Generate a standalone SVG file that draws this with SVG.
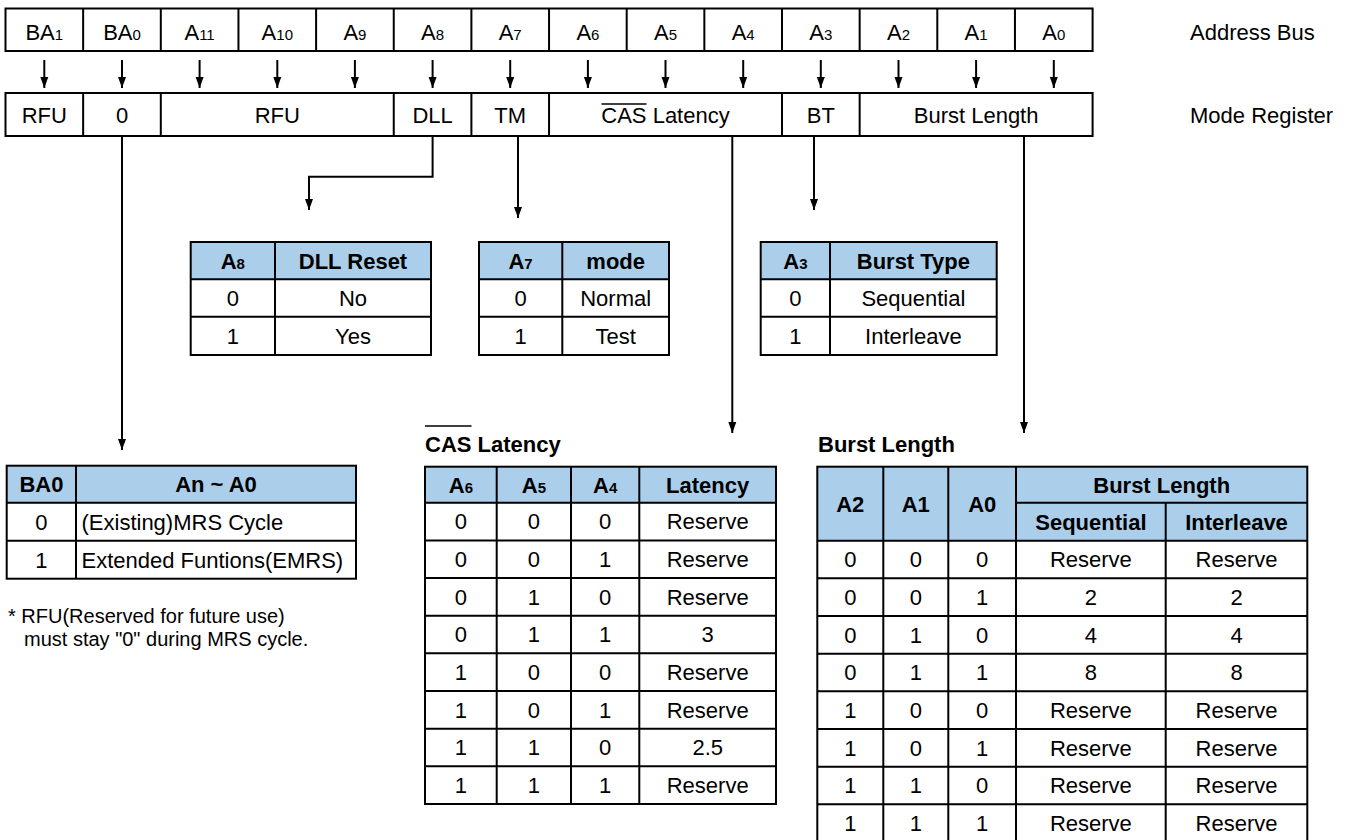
<svg xmlns="http://www.w3.org/2000/svg" width="1349" height="840" viewBox="0 0 1349 840">
<style>
.t{font-family:"Liberation Sans",Arial,Helvetica,sans-serif;font-size:22px;fill:#000}
.c{text-anchor:middle}
.b{font-weight:bold}
.s{font-size:15px}
.fn{font-size:20px}
.box{fill:#fff;stroke:#000;stroke-width:2}
.hd{fill:#abcfea;stroke:none}
.ln{stroke:#000;stroke-width:2;fill:none}
.ol{stroke:#000;stroke-width:1.6}
</style>
<defs>
<marker id="ah" markerUnits="userSpaceOnUse" markerWidth="12" markerHeight="9" refX="11" refY="4.5" orient="auto">
<path d="M0,0.5 L11,4.5 L0,8.5 z" fill="#000"/>
</marker>
</defs>
<rect width="1349" height="840" fill="#fff"/>

<g id="address-bus">
<rect class="box" x="5.5" y="8.5" width="1087.1" height="42.5"/>
<path class="ln" d="M83.15,8.5V51M160.8,8.5V51M238.45,8.5V51M316.1,8.5V51M393.75,8.5V51M471.4,8.5V51M549.05,8.5V51M626.7,8.5V51M704.35,8.5V51M782,8.5V51M859.65,8.5V51M937.3,8.5V51M1014.95,8.5V51"/>
<text class="t c" x="44.3" y="39.5">BA<tspan class="s">1</tspan></text>
<text class="t c" x="122" y="39.5">BA<tspan class="s">0</tspan></text>
<text class="t c" x="199.6" y="39.5">A<tspan class="s">11</tspan></text>
<text class="t c" x="277.3" y="39.5">A<tspan class="s">10</tspan></text>
<text class="t c" x="354.9" y="39.5">A<tspan class="s">9</tspan></text>
<text class="t c" x="432.6" y="39.5">A<tspan class="s">8</tspan></text>
<text class="t c" x="510.2" y="39.5">A<tspan class="s">7</tspan></text>
<text class="t c" x="587.9" y="39.5">A<tspan class="s">6</tspan></text>
<text class="t c" x="665.5" y="39.5">A<tspan class="s">5</tspan></text>
<text class="t c" x="743.2" y="39.5">A<tspan class="s">4</tspan></text>
<text class="t c" x="820.8" y="39.5">A<tspan class="s">3</tspan></text>
<text class="t c" x="898.5" y="39.5">A<tspan class="s">2</tspan></text>
<text class="t c" x="976.1" y="39.5">A<tspan class="s">1</tspan></text>
<text class="t c" x="1053.8" y="39.5">A<tspan class="s">0</tspan></text>
<text class="t" x="1190" y="39.5">Address Bus</text>
</g>

<g id="mode-register">
<rect class="box" x="5.5" y="93" width="1087.1" height="43"/>
<path class="ln" d="M83.15,93V136M160.8,93V136M393.75,93V136M471.4,93V136M549.05,93V136M782,93V136M859.65,93V136"/>
<text class="t c" x="44.3" y="122.7">RFU</text>
<text class="t c" x="122" y="122.7">0</text>
<text class="t c" x="277.3" y="122.7">RFU</text>
<text class="t c" x="432.6" y="122.7">DLL</text>
<text class="t c" x="510.2" y="122.7">TM</text>
<text class="t" x="601.3" y="122.7">CAS Latency</text>
<line class="ol" x1="601.5" y1="104" x2="646.5" y2="104"/>
<text class="t c" x="820.8" y="122.7">BT</text>
<text class="t c" x="976.1" y="122.7">Burst Length</text>
<text class="t" x="1190" y="122.7">Mode Register</text>
</g>

<g id="connectors" class="ln">
<path d="M44.3,60V88" marker-end="url(#ah)"/>
<path d="M122,60V88" marker-end="url(#ah)"/>
<path d="M199.6,60V88" marker-end="url(#ah)"/>
<path d="M277.3,60V88" marker-end="url(#ah)"/>
<path d="M354.9,60V88" marker-end="url(#ah)"/>
<path d="M432.6,60V88" marker-end="url(#ah)"/>
<path d="M510.2,60V88" marker-end="url(#ah)"/>
<path d="M587.9,60V88" marker-end="url(#ah)"/>
<path d="M665.5,60V88" marker-end="url(#ah)"/>
<path d="M743.2,60V88" marker-end="url(#ah)"/>
<path d="M820.8,60V88" marker-end="url(#ah)"/>
<path d="M898.5,60V88" marker-end="url(#ah)"/>
<path d="M976.1,60V88" marker-end="url(#ah)"/>
<path d="M1053.8,60V88" marker-end="url(#ah)"/>
<path d="M122,136V450" marker-end="url(#ah)"/>
<path d="M432.6,136V176.7H309V210" marker-end="url(#ah)"/>
<path d="M518,136V218" marker-end="url(#ah)"/>
<path d="M814,136V210" marker-end="url(#ah)"/>
<path d="M732.3,136V433" marker-end="url(#ah)"/>
<path d="M1024,136V433" marker-end="url(#ah)"/>
</g>

<g id="dll-table">
<rect class="hd" x="190.7" y="242" width="240.3" height="37.3"/>
<path class="ln" d="M190.7,279.3H431M190.7,316.7H431M275,242V355"/>
<rect x="190.7" y="242" width="240.3" height="113" fill="none" stroke="#000" stroke-width="2"/>
<text class="t c b" x="232.8" y="268.5">A<tspan class="s">8</tspan></text>
<text class="t c b" x="353" y="268.5">DLL Reset</text>
<text class="t c" x="232.8" y="305.8">0</text>
<text class="t c" x="353" y="305.8">No</text>
<text class="t c" x="232.8" y="343.7">1</text>
<text class="t c" x="353" y="343.7">Yes</text>
</g>

<g id="mode-table">
<rect class="hd" x="479" y="242" width="190" height="37.3"/>
<path class="ln" d="M479,279.3H669M479,316.7H669M562.3,242V355"/>
<rect x="479" y="242" width="190" height="113" fill="none" stroke="#000" stroke-width="2"/>
<text class="t c b" x="520.6" y="268.5">A<tspan class="s">7</tspan></text>
<text class="t c b" x="615.7" y="268.5">mode</text>
<text class="t c" x="520.6" y="305.8">0</text>
<text class="t c" x="615.7" y="305.8">Normal</text>
<text class="t c" x="520.6" y="343.7">1</text>
<text class="t c" x="615.7" y="343.7">Test</text>
</g>

<g id="bt-table">
<rect class="hd" x="760.7" y="242" width="236" height="37.3"/>
<path class="ln" d="M760.7,279.3H996.7M760.7,316.7H996.7M830,242V355"/>
<rect x="760.7" y="242" width="236" height="113" fill="none" stroke="#000" stroke-width="2"/>
<text class="t c b" x="795.4" y="268.5">A<tspan class="s">3</tspan></text>
<text class="t c b" x="913.4" y="268.5">Burst Type</text>
<text class="t c" x="795.4" y="305.8">0</text>
<text class="t c" x="913.4" y="305.8">Sequential</text>
<text class="t c" x="795.4" y="343.7">1</text>
<text class="t c" x="913.4" y="343.7">Interleave</text>
</g>

<g id="ba0-table">
<rect class="hd" x="6.7" y="465.7" width="349.3" height="37"/>
<path class="ln" d="M6.7,502.7H356M6.7,540.7H356M76,465.7V578.7"/>
<rect x="6.7" y="465.7" width="349.3" height="113" fill="none" stroke="#000" stroke-width="2"/>
<text class="t c b" x="41.4" y="492">BA0</text>
<text class="t c b" x="216" y="492">An ~ A0</text>
<text class="t c" x="41.4" y="529.5">0</text>
<text class="t" x="81.5" y="529.5">(Existing)MRS Cycle</text>
<text class="t c" x="41.4" y="567.5">1</text>
<text class="t" x="81.5" y="567.5">Extended Funtions(EMRS)</text>
</g>

<g id="footnote">
<text class="t fn" x="8" y="623">* RFU(Reserved for future use)</text>
<text class="t fn" x="24" y="646">must stay "0" during MRS cycle.</text>
</g>

<g id="cas-table">
<text class="t b" x="425" y="451.5">CAS Latency</text>
<line class="ol" x1="425" y1="426" x2="471.5" y2="426"/>
<rect class="hd" x="425" y="466.7" width="351" height="36"/>
<path class="ln" d="M425,502.7H776M425,540.4H776M425,578H776M425,615.7H776M425,653.3H776M425,691H776M425,728.7H776M425,766.3H776M496.7,466.7V804M571,466.7V804M639.3,466.7V804"/>
<rect x="425" y="466.7" width="351" height="337.3" fill="none" stroke="#000" stroke-width="2"/>
<text class="t c b" x="460.9" y="492.5">A<tspan class="s">6</tspan></text>
<text class="t c b" x="533.9" y="492.5">A<tspan class="s">5</tspan></text>
<text class="t c b" x="605.2" y="492.5">A<tspan class="s">4</tspan></text>
<text class="t c b" x="707.7" y="492.5">Latency</text>
<g class="t c">
<text x="460.9" y="529.3">0</text><text x="533.9" y="529.3">0</text><text x="605.2" y="529.3">0</text><text x="707.7" y="529.3">Reserve</text>
<text x="460.9" y="567">0</text><text x="533.9" y="567">0</text><text x="605.2" y="567">1</text><text x="707.7" y="567">Reserve</text>
<text x="460.9" y="604.6">0</text><text x="533.9" y="604.6">1</text><text x="605.2" y="604.6">0</text><text x="707.7" y="604.6">Reserve</text>
<text x="460.9" y="642.3">0</text><text x="533.9" y="642.3">1</text><text x="605.2" y="642.3">1</text><text x="707.7" y="642.3">3</text>
<text x="460.9" y="679.9">1</text><text x="533.9" y="679.9">0</text><text x="605.2" y="679.9">0</text><text x="707.7" y="679.9">Reserve</text>
<text x="460.9" y="717.6">1</text><text x="533.9" y="717.6">0</text><text x="605.2" y="717.6">1</text><text x="707.7" y="717.6">Reserve</text>
<text x="460.9" y="755.3">1</text><text x="533.9" y="755.3">1</text><text x="605.2" y="755.3">0</text><text x="707.7" y="755.3">2.5</text>
<text x="460.9" y="792.9">1</text><text x="533.9" y="792.9">1</text><text x="605.2" y="792.9">1</text><text x="707.7" y="792.9">Reserve</text>
</g>
</g>

<g id="burst-table">
<text class="t b" x="818" y="451.5">Burst Length</text>
<rect class="hd" x="817.3" y="466.7" width="490" height="74"/>
<path class="ln" d="M1016,502.7H1307.3M817.3,540.7H1307.3M817.3,578.3H1307.3M817.3,616H1307.3M817.3,653.7H1307.3M817.3,691.3H1307.3M817.3,729H1307.3M817.3,766.7H1307.3M817.3,804.3H1307.3M883.3,466.7V845M948.3,466.7V845M1016,466.7V845M1165.7,502.7V845"/>
<rect x="817.3" y="466.7" width="490" height="376" fill="none" stroke="#000" stroke-width="2"/>
<text class="t c b" x="850.3" y="511.5">A2</text>
<text class="t c b" x="915.8" y="511.5">A1</text>
<text class="t c b" x="982.2" y="511.5">A0</text>
<text class="t c b" x="1161.7" y="492.5">Burst Length</text>
<text class="t c b" x="1090.9" y="529.5">Sequential</text>
<text class="t c b" x="1236.5" y="529.5">Interleave</text>
<g class="t c">
<text x="850.3" y="567.3">0</text><text x="915.8" y="567.3">0</text><text x="982.2" y="567.3">0</text><text x="1090.9" y="567.3">Reserve</text><text x="1236.5" y="567.3">Reserve</text>
<text x="850.3" y="605">0</text><text x="915.8" y="605">0</text><text x="982.2" y="605">1</text><text x="1090.9" y="605">2</text><text x="1236.5" y="605">2</text>
<text x="850.3" y="642.6">0</text><text x="915.8" y="642.6">1</text><text x="982.2" y="642.6">0</text><text x="1090.9" y="642.6">4</text><text x="1236.5" y="642.6">4</text>
<text x="850.3" y="680.3">0</text><text x="915.8" y="680.3">1</text><text x="982.2" y="680.3">1</text><text x="1090.9" y="680.3">8</text><text x="1236.5" y="680.3">8</text>
<text x="850.3" y="717.9">1</text><text x="915.8" y="717.9">0</text><text x="982.2" y="717.9">0</text><text x="1090.9" y="717.9">Reserve</text><text x="1236.5" y="717.9">Reserve</text>
<text x="850.3" y="755.6">1</text><text x="915.8" y="755.6">0</text><text x="982.2" y="755.6">1</text><text x="1090.9" y="755.6">Reserve</text><text x="1236.5" y="755.6">Reserve</text>
<text x="850.3" y="793.3">1</text><text x="915.8" y="793.3">1</text><text x="982.2" y="793.3">0</text><text x="1090.9" y="793.3">Reserve</text><text x="1236.5" y="793.3">Reserve</text>
<text x="850.3" y="830.9">1</text><text x="915.8" y="830.9">1</text><text x="982.2" y="830.9">1</text><text x="1090.9" y="830.9">Reserve</text><text x="1236.5" y="830.9">Reserve</text>
</g>
</g>
</svg>
